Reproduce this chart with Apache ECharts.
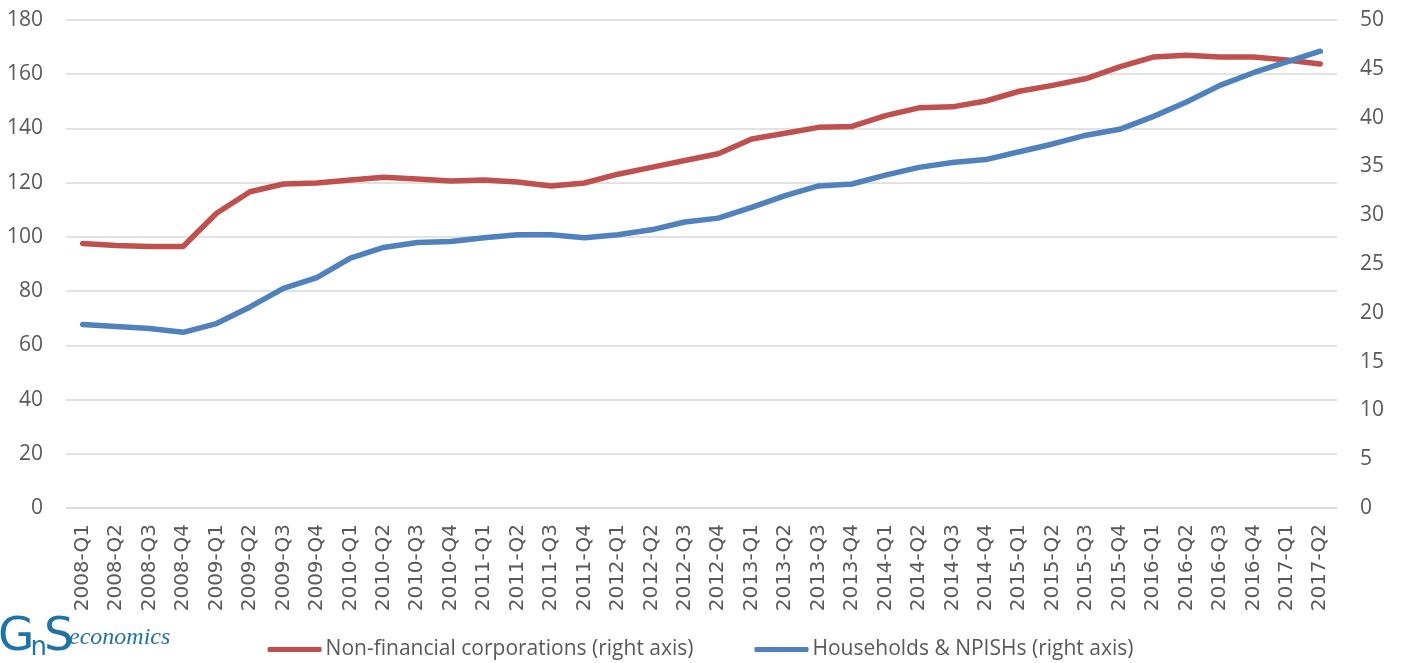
<!DOCTYPE html>
<html>
<head>
<meta charset="utf-8">
<script src="https://cdn.jsdelivr.net/npm/echarts@6/dist/echarts.min.js"></script>
<style>
  html, body { margin: 0; padding: 0; background: #fff; }
  #chart { width: 1401px; height: 663px; }
</style>
</head>
<body>
<div id="chart"></div>
<script>
// quarters
var categories = [
  '2008-Q1', '2008-Q2', '2008-Q3', '2008-Q4',
  '2009-Q1', '2009-Q2', '2009-Q3', '2009-Q4',
  '2010-Q1', '2010-Q2', '2010-Q3', '2010-Q4',
  '2011-Q1', '2011-Q2', '2011-Q3', '2011-Q4',
  '2012-Q1', '2012-Q2', '2012-Q3', '2012-Q4',
  '2013-Q1', '2013-Q2', '2013-Q3', '2013-Q4',
  '2014-Q1', '2014-Q2', '2014-Q3', '2014-Q4',
  '2015-Q1', '2015-Q2', '2015-Q3', '2015-Q4',
  '2016-Q1', '2016-Q2', '2016-Q3', '2016-Q4',
  '2017-Q1', '2017-Q2'
];

// values on the right axis
var nonFinancial = [
  27.1, 26.9, 26.8, 26.8, 30.2, 32.4, 33.2, 33.3, 33.6, 33.9,
  33.7, 33.5, 33.6, 33.4, 33.0, 33.3, 34.2, 34.9, 35.6, 36.3,
  37.8, 38.4, 39.0, 39.1, 40.2, 41.0, 41.1, 41.7, 42.7, 43.3,
  44.0, 45.2, 46.2, 46.4, 46.2, 46.2, 45.9, 45.5
];
var households = [
  18.8, 18.6, 18.4, 18.0, 18.9, 20.6, 22.5, 23.6, 25.6, 26.7,
  27.2, 27.3, 27.7, 28.0, 28.0, 27.7, 28.0, 28.5, 29.3, 29.7,
  30.8, 32.0, 33.0, 33.2, 34.1, 34.9, 35.4, 35.7, 36.5, 37.3,
  38.2, 38.8, 40.1, 41.6, 43.3, 44.6, 45.7, 46.8
];

var leftTicks = { min: 0, max: 180, step: 20 };
var rightTicks = { min: 0, max: 50, step: 5 };

var textColor = '#595959';
var gridColor = '#d9d9d9';
var logoColor = '#1f72a6';

var chart = echarts.init(document.getElementById('chart'));

chart.setOption({
  animation: false,
  grid: { left: 66, right: 64, top: 20, bottom: 155, containLabel: false },
  legend: {
    top: 634,
    left: 'center',
    icon: 'roundRect',
    itemWidth: 54,
    itemHeight: 5,
    itemGap: 61,
    textStyle: { fontFamily: 'Open Sans', fontSize: 21, color: textColor, padding: [0, 0, 0, -1] },
    data: ['Non-financial corporations (right axis)', 'Households & NPISHs (right axis)']
  },
  xAxis: {
    type: 'category',
    data: categories,
    boundaryGap: true,
    axisTick: { show: false },
    axisLine: { lineStyle: { color: gridColor, width: 1.5 } },
    axisLabel: {
      interval: 0,
      rotate: 90,
      margin: 16,
      fontFamily: 'DejaVu Sans',
      fontSize: 20,
      color: textColor
    }
  },
  yAxis: [
    {
      type: 'value',
      min: leftTicks.min,
      max: leftTicks.max,
      interval: leftTicks.step,
      axisLine: { show: false },
      axisTick: { show: false },
      splitLine: { lineStyle: { color: gridColor, width: 1.5 } },
      axisLabel: { margin: 23, fontFamily: 'Open Sans', fontSize: 21, color: textColor }
    },
    {
      type: 'value',
      position: 'right',
      min: rightTicks.min,
      max: rightTicks.max,
      interval: rightTicks.step,
      axisLine: { show: false },
      axisTick: { show: false },
      splitLine: { show: false },
      axisLabel: { margin: 23, fontFamily: 'Open Sans', fontSize: 21, color: textColor }
    }
  ],
  graphic: [
    {
      type: 'text',
      left: -2,
      top: 614,
      style: {
        text: '{g|G}{n|n}{s|S}',
        rich: {
          g: { fontFamily: 'DejaVu Sans', fontSize: 47, fill: logoColor },
          n: { fontFamily: 'DejaVu Sans', fontSize: 26, fill: logoColor, verticalAlign: 'bottom', padding: [0, -3, 0, -4] },
          s: { fontFamily: 'DejaVu Sans', fontSize: 47, fill: logoColor }
        }
      }
    },
    {
      type: 'text',
      left: 69,
      top: 626,
      style: {
        text: 'economics',
        fontFamily: 'Liberation Serif',
        fontStyle: 'italic',
        fontSize: 24,
        fill: logoColor
      }
    }
  ],
  series: [
    {
      name: 'Non-financial corporations (right axis)',
      type: 'line',
      yAxisIndex: 1,
      data: nonFinancial,
      showSymbol: false,
      symbol: 'none',
      lineStyle: { color: '#c0504d', width: 5.5, cap: 'round', join: 'round' },
      itemStyle: { color: '#c0504d' }
    },
    {
      name: 'Households & NPISHs (right axis)',
      type: 'line',
      yAxisIndex: 1,
      data: households,
      showSymbol: false,
      symbol: 'none',
      lineStyle: { color: '#4f81bd', width: 5.5, cap: 'round', join: 'round' },
      itemStyle: { color: '#4f81bd' }
    }
  ]
});
</script>
</body>
</html>
